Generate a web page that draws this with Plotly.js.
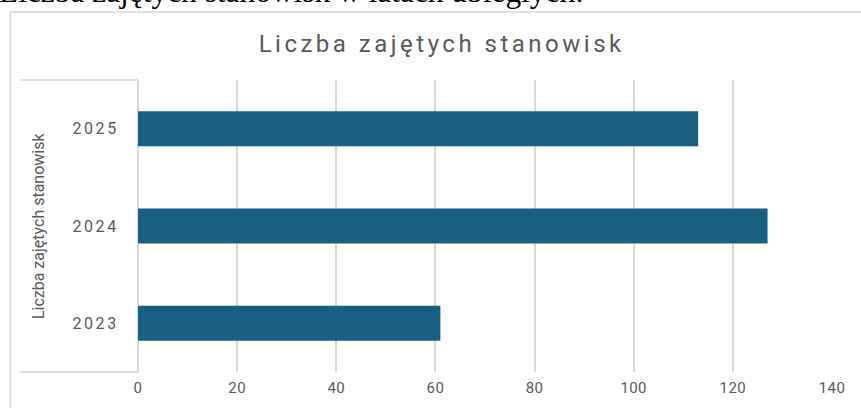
<!DOCTYPE html>
<html>
<head>
<meta charset="utf-8">
<script src="https://cdn.plot.ly/plotly-3.0.1.min.js"></script>
<style>
  html, body { margin: 0; padding: 0; background: #fff; }
  #chart { width: 861px; height: 408px; }
  /* the reference letters are spread wider than Roboto */
  #chart .gtitle { letter-spacing: 3.5px; }
  #chart .ytick text { letter-spacing: 2.6px; }
  #chart .xtick text { letter-spacing: 0.4px; }
</style>
</head>
<body>
<div id="chart"></div>
<script>
// chart data
var years = ['2023', '2024', '2025'];
var counts = [61, 127, 113];
var xTicks = [0, 20, 40, 60, 80, 100, 120, 140];

var headText = 'Liczba zajętych stanowisk w latach ubiegłych:';
var chartTitle = 'Liczba zajętych stanowisk';
var axisTitle = 'Liczba zajętych stanowisk';

var grey = '#595959';
var lineGrey = '#d9d9d9';

var trace = {
    type: 'bar',
    orientation: 'h',
    x: counts,
    y: years,
    marker: { color: '#185f82' },
    hoverinfo: 'x+y'
};

var layout = {
    width: 861,
    height: 408,
    margin: { l: 138, r: 29, t: 80, b: 36 },
    paper_bgcolor: '#fff',
    plot_bgcolor: '#fff',
    showlegend: false,
    bargap: 0.64,
    font: { family: 'Roboto, sans-serif', color: grey },
    title: {
        text: chartTitle,
        font: { family: 'Roboto, sans-serif', size: 24, color: grey },
        x: 0.513, xanchor: 'center',
        y: 0.892, yanchor: 'middle'
    },
    xaxis: {
        range: [0, 140],
        tickvals: xTicks,
        showgrid: true,
        gridcolor: lineGrey,
        gridwidth: 2,
        zeroline: true,
        zerolinecolor: lineGrey,
        zerolinewidth: 2,
        showline: false,
        ticks: 'outside',
        ticklen: 2,
        tickcolor: 'rgba(0,0,0,0)',
        tickfont: { size: 15, color: grey },
        fixedrange: true
    },
    yaxis: {
        type: 'category',
        categoryorder: 'array',
        categoryarray: years,
        showgrid: false,
        zeroline: false,
        showline: false,
        ticks: 'outside',
        ticklen: 15,
        tickcolor: 'rgba(0,0,0,0)',
        tickfont: { size: 16, color: grey },
        fixedrange: true
    },
    annotations: [
        {
            text: headText,
            xref: 'paper', yref: 'paper',
            x: -0.203, y: 1.235,
            xanchor: 'left', yanchor: 'bottom',
            showarrow: false,
            font: { family: 'Liberation Serif, Times New Roman, serif', size: 31.4, color: '#000' }
        },
        {
            text: axisTitle,
            xref: 'paper', yref: 'paper',
            x: -0.1441, y: 0.503,
            xanchor: 'center', yanchor: 'middle',
            textangle: -90,
            showarrow: false,
            font: { family: 'Roboto, sans-serif', size: 16, color: grey }
        }
    ],
    shapes: [
        // outer chart frame
        { type: 'rect', xref: 'paper', yref: 'paper', x0: -0.184, x1: 1.2, y0: -0.3, y1: 1.2329,
          line: { color: lineGrey, width: 1.5 } },
        // category label box lines
        { type: 'line', xref: 'paper', yref: 'paper', x0: -0.170, x1: 0, y0: 1, y1: 1,
          line: { color: lineGrey, width: 1.5 } },
        { type: 'line', xref: 'paper', yref: 'paper', x0: -0.170, x1: 0, y0: 0, y1: 0,
          line: { color: lineGrey, width: 1.5 } }
    ]
};

Plotly.newPlot('chart', [trace], layout, { displayModeBar: false, staticPlot: true });
</script>
</body>
</html>
